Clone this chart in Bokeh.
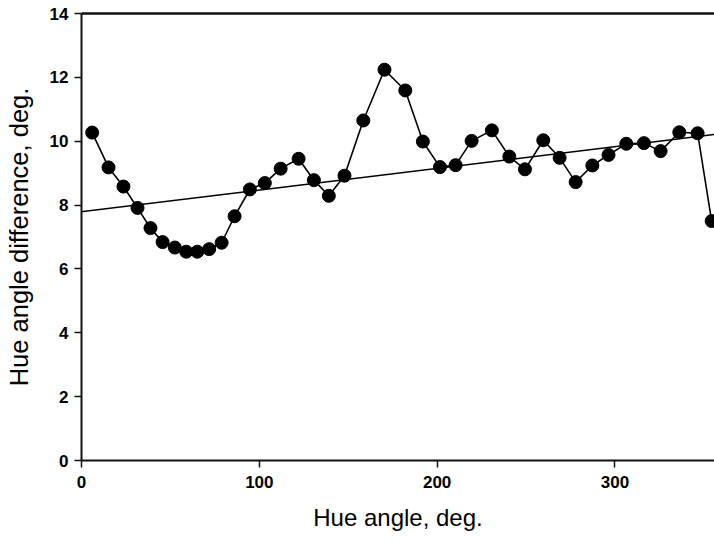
from bokeh.plotting import figure
from bokeh.models import LinearAxis, Range1d, FixedTicker, ColumnDataSource
from bokeh.embed import file_html
from bokeh.resources import INLINE

# Data
hue_angle = [6.0, 15.2, 23.6, 31.5, 38.8, 45.6, 52.5, 58.9, 65.1, 71.8,
             78.8, 86.1, 94.7, 103.1, 112.0, 122.1, 130.7, 139.1, 147.9, 158.5,
             170.4, 182.1, 192.0, 201.6, 210.4, 219.4, 230.8, 240.6, 249.4, 259.7,
             268.9, 277.9, 287.3, 296.4, 306.4, 316.3, 325.7, 336.2, 346.5, 354.4]
hue_diff = [10.27, 9.18, 8.58, 7.91, 7.28, 6.84, 6.67, 6.54, 6.54, 6.62,
            6.82, 7.65, 8.49, 8.69, 9.14, 9.45, 8.78, 8.29, 8.92, 10.65,
            12.24, 11.59, 9.99, 9.19, 9.25, 10.01, 10.34, 9.52, 9.12, 10.03,
            9.48, 8.72, 9.24, 9.57, 9.92, 9.94, 9.69, 10.28, 10.25, 7.50]
trend_intercept = 7.79
trend_slope = 0.0068
x_ticks = [0, 100, 200, 300]
y_ticks = [0, 2, 4, 6, 8, 10, 12, 14]

X_START, X_END = 0, 356
Y_START, Y_END = 0, 14

FONT = "Liberation Sans"

p = figure(width=714, height=542, output_backend="svg", toolbar_location=None,
           x_range=Range1d(X_START, X_END), y_range=Range1d(Y_START, Y_END),
           min_border_left=81, min_border_right=0, min_border_top=13, min_border_bottom=82,
           background_fill_color="white", border_fill_color="white")
p.outline_line_color = None
p.grid.visible = False

# trend line
tx = [X_START - 5, X_END + 5]
ty = [trend_intercept + trend_slope * v for v in tx]
p.line(tx, ty, line_color="black", line_width=1.5)

src = ColumnDataSource(dict(x=hue_angle, y=hue_diff))
p.line("x", "y", source=src, line_color="black", line_width=1.6)
p.scatter("x", "y", source=src, size=13, fill_color="black", line_color="black")

for ax in (p.xaxis[0], p.yaxis[0]):
    ax.axis_line_width = 2
    ax.axis_line_color = "#111111"
    ax.major_tick_line_color = "#111111"
    ax.major_tick_line_width = 1.5
    ax.major_tick_in = 0
    ax.major_tick_out = 7
    ax.minor_tick_line_color = None
    ax.major_label_text_font = FONT
    ax.major_label_text_font_style = "bold"
    ax.major_label_text_font_size = "17px"
    ax.major_label_text_color = "black"
    ax.axis_label_text_font = FONT
    ax.axis_label_text_font_style = "normal"
    ax.axis_label_text_color = "black"

p.xaxis[0].axis_label_text_font_size = "24px"
p.yaxis[0].axis_label_text_font_size = "25.5px"
p.xaxis[0].ticker = FixedTicker(ticks=x_ticks)
p.yaxis[0].ticker = FixedTicker(ticks=y_ticks)
p.xaxis[0].axis_label = "Hue angle, deg."
p.yaxis[0].axis_label = "Hue angle difference, deg."
p.xaxis[0].major_label_standoff = 8
p.xaxis[0].axis_label_standoff = 13
p.yaxis[0].major_label_standoff = 6
p.yaxis[0].axis_label_standoff = 14

top = LinearAxis(ticker=FixedTicker(ticks=[]), axis_line_width=2.5, axis_line_color="#111111",
                 major_tick_line_color=None, minor_tick_line_color=None,
                 major_label_text_font_size="0px", major_label_standoff=0)
p.add_layout(top, "above")

open("out.html", "w").write(file_html(p, INLINE))
